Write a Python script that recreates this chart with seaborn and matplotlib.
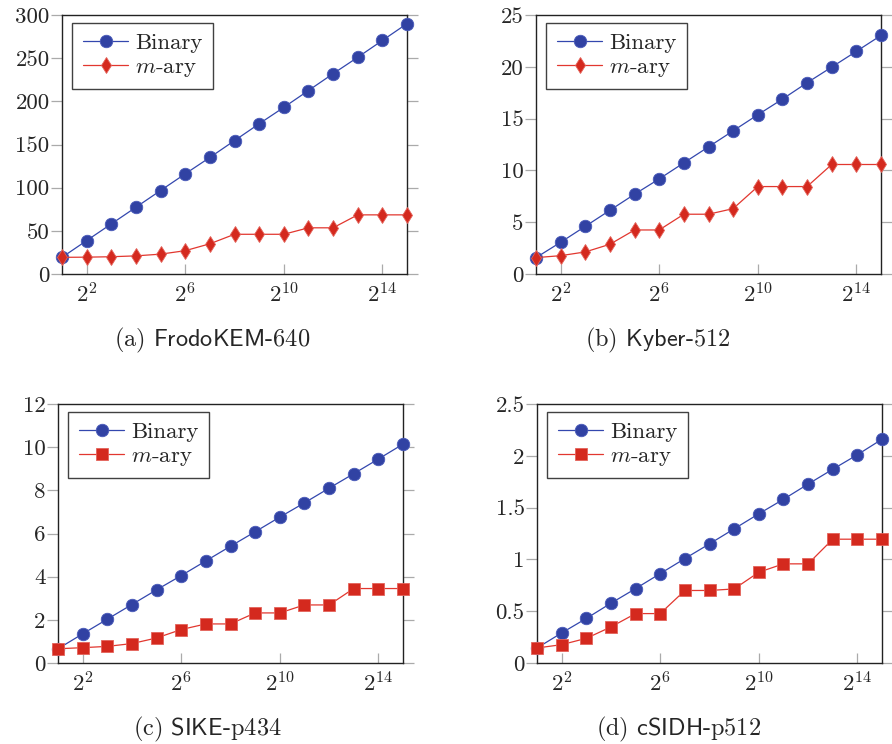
import numpy as np
import pandas as pd
import seaborn as sns
import matplotlib.pyplot as plt
from matplotlib.ticker import FixedLocator, FuncFormatter, NullLocator

# Data (x = 2^1 .. 2^15)
exponents = list(range(1, 16))

frodo_binary = [19.3, 38.7, 58, 77.3, 96.7, 116, 135, 154.5, 174, 193, 212.5, 232, 251, 270.5, 290]
frodo_mary = [19.3, 19.5, 20, 21, 23, 27, 35, 46, 46, 46, 53.5, 53.5, 68.5, 68.5, 68.5]

kyber_binary = [1.58, 3.06, 4.6, 6.15, 7.7, 9.18, 10.73, 12.27, 13.82, 15.37, 16.88, 18.46, 19.97, 21.49, 23.03]
kyber_mary = [1.58, 1.77, 2.13, 2.87, 4.25, 4.25, 5.77, 5.77, 6.31, 8.44, 8.44, 8.44, 10.57, 10.57, 10.57]

sike_binary = [0.66, 1.35, 2.03, 2.71, 3.39, 4.05, 4.73, 5.41, 6.08, 6.76, 7.42, 8.10, 8.77, 9.45, 10.14]
sike_mary = [0.66, 0.71, 0.77, 0.90, 1.16, 1.55, 1.81, 1.81, 2.32, 2.32, 2.69, 2.69, 3.45, 3.45, 3.45]

csidh_binary = [0.145, 0.29, 0.43, 0.577, 0.718, 0.863, 1.008, 1.15, 1.295, 1.44, 1.58, 1.727, 1.87, 2.01, 2.16]
csidh_mary = [0.145, 0.177, 0.238, 0.348, 0.477, 0.477, 0.70, 0.70, 0.715, 0.876, 0.957, 0.957, 1.195, 1.195, 1.195]

panels = [
    ('(a) $\\mathsf{FrodoKEM}$-640', frodo_binary, frodo_mary, 'd', [0, 300], [0, 50, 100, 150, 200, 250, 300]),
    ('(b) $\\mathsf{Kyber}$-512', kyber_binary, kyber_mary, 'd', [0, 25], [0, 5, 10, 15, 20, 25]),
    ('(c) $\\mathsf{SIKE}$-p434', sike_binary, sike_mary, 's', [0, 12], [0, 2, 4, 6, 8, 10, 12]),
    ('(d) $\\mathsf{cSIDH}$-p512', csidh_binary, csidh_mary, 's', [0, 2.5], [0, 0.5, 1, 1.5, 2, 2.5]),
]
xtick_exps = [2, 6, 10, 14]

sns.set_style('white')
plt.rcParams['font.family'] = ['cmr10', 'DejaVu Serif']
plt.rcParams['mathtext.fontset'] = 'cm'
plt.rcParams['axes.formatter.use_mathtext'] = True
plt.rcParams['axes.unicode_minus'] = False

blue_line = '#3347AE'
blue_fill = '#3142A3'
red_line = '#E2372F'
red_fill = '#D4291E'
red_edge = '#E4635A'

fig = plt.figure(figsize=(8.92, 7.44), dpi=100)

# axes rectangles in pixels: left, top, right, bottom
boxes = [(62, 15, 407, 274), (536, 15, 881, 274), (58, 404, 403, 663), (537, 404, 882, 663)]
caption_pos = [(212, 340), (658, 340), (207, 729), (679, 729)]

W, H = 892, 744
for (title, yb, ym, mk, ylim, yticks), (l, t, r, b), (cx, cy) in zip(panels, boxes, caption_pos):
    ax = fig.add_axes([l / W, 1 - b / H, (r - l) / W, (b - t) / H])
    xs = [2 ** e for e in exponents]
    df = pd.DataFrame({'x': xs + xs,
                       'y': yb + ym,
                       'series': ['Binary'] * 15 + ['$m$-ary'] * 15})
    sns.lineplot(data=df[df['series'] == 'Binary'], x='x', y='y', ax=ax,
                 color=blue_line, lw=0.9, marker='o', markersize=9,
                 markerfacecolor=blue_fill, markeredgecolor='#4A5BBA', markeredgewidth=0.6,
                 label='Binary', clip_on=False, zorder=3)
    msize = 8 if mk == 'd' else 8
    sns.lineplot(data=df[df['series'] == '$m$-ary'], x='x', y='y', ax=ax,
                 color=red_line, lw=0.9, marker=mk, markersize=msize,
                 markerfacecolor=red_fill, markeredgecolor=red_edge, markeredgewidth=0.6,
                 label='$m$-ary', clip_on=False, zorder=4)

    ax.set_xscale('log', base=2)
    ax.set_xlim(2, 2 ** 15)
    ax.set_ylim(*ylim)
    ax.xaxis.set_major_locator(FixedLocator([2 ** e for e in xtick_exps]))
    ax.xaxis.set_minor_locator(NullLocator())
    ax.set_xticklabels(['$2^{%d}$' % e for e in xtick_exps])
    ax.set_yticks(yticks)
    ax.yaxis.set_major_formatter(FuncFormatter(lambda v, p: '%g' % v))
    ax.set_xlabel('')
    ax.set_ylabel('')

    ax.tick_params(axis='x', which='major', direction='in', length=7, width=0.9,
                   color='#AAAAAA', labelsize=16.5, pad=6, bottom=True, top=False)
    ax.tick_params(axis='y', which='major', direction='out', length=8, width=0.9,
                   color='#AAAAAA', labelsize=16.5, pad=1, left=True, right=True)
    for s in ax.spines.values():
        s.set_color('#222222')
        s.set_linewidth(1.0)

    leg = ax.legend(loc='upper left', bbox_to_anchor=(0.03, 0.97), frameon=True,
                    fancybox=False, fontsize=16.5, handlelength=2.0, handletextpad=0.3,
                    labelspacing=0.15, borderpad=0.45, borderaxespad=0)
    leg.get_frame().set_edgecolor('#111111')
    leg.get_frame().set_linewidth(1.0)

    fig.text(cx / W, 1 - cy / H, title, ha='center', va='center', fontsize=17.5)

fig.savefig('out.png', dpi=100)
